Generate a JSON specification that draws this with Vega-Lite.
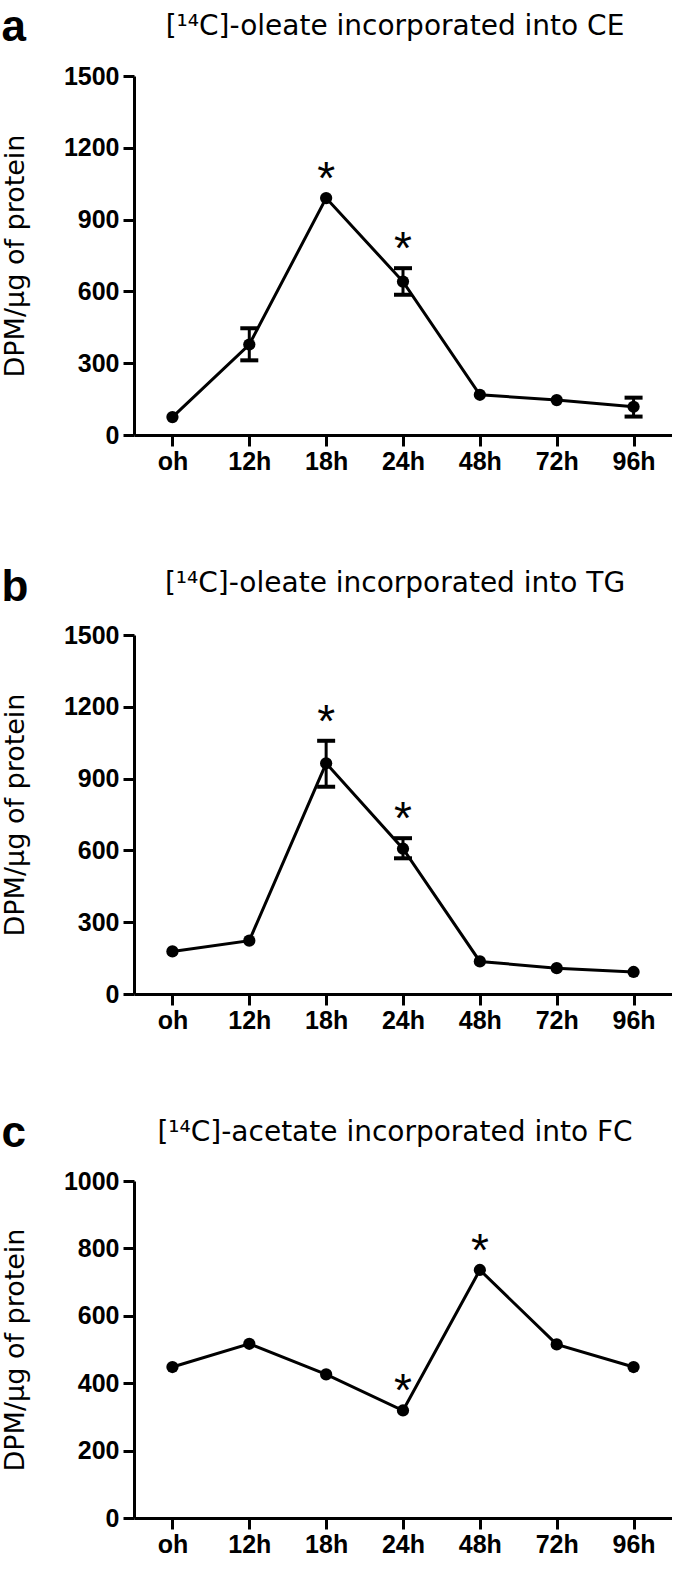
{
  "$schema": "https://vega.github.io/schema/vega-lite/v6.json",
  "padding": {"left": 1, "top": 5, "right": 0, "bottom": 0},
  "background": "white",
  "config": {
    "view": {"stroke": null},
    "axis": {"domainColor": "black", "domainWidth": 3, "tickColor": "black", "tickWidth": 3, "tickSize": 11, "labelFont": "Liberation Sans", "labelFontSize": 25, "labelFontWeight": "bold", "labelColor": "black", "grid": false, "titleFont": "DejaVu Sans", "titleFontSize": 27, "titleFontWeight": "normal", "titleColor": "black"},
    "axisX": {"labelPadding": 3, "labelAngle": 0, "title": null},
    "axisY": {"labelPadding": 4, "titlePadding": 34, "format": "d"},
    "title": {"font": "DejaVu Sans", "fontSize": 28, "fontWeight": "normal", "color": "black"}
  },
  "datasets": {
    "d": [
      {"panel": "a", "time": "oh", "mean": 75, "lo": 75, "hi": 75, "sig": false},
      {"panel": "a", "time": "12h", "mean": 378, "lo": 312, "hi": 446, "sig": false},
      {"panel": "a", "time": "18h", "mean": 990, "lo": 990, "hi": 990, "sig": true},
      {"panel": "a", "time": "24h", "mean": 641, "lo": 586, "hi": 697, "sig": true},
      {"panel": "a", "time": "48h", "mean": 168, "lo": 168, "hi": 168, "sig": false},
      {"panel": "a", "time": "72h", "mean": 146, "lo": 146, "hi": 146, "sig": false},
      {"panel": "a", "time": "96h", "mean": 118, "lo": 77, "hi": 156, "sig": false},
      {"panel": "b", "time": "oh", "mean": 178, "lo": 178, "hi": 178, "sig": false},
      {"panel": "b", "time": "12h", "mean": 223, "lo": 223, "hi": 223, "sig": false},
      {"panel": "b", "time": "18h", "mean": 964, "lo": 866, "hi": 1058, "sig": true},
      {"panel": "b", "time": "24h", "mean": 607, "lo": 567, "hi": 651, "sig": true},
      {"panel": "b", "time": "48h", "mean": 136, "lo": 136, "hi": 136, "sig": false},
      {"panel": "b", "time": "72h", "mean": 108, "lo": 108, "hi": 108, "sig": false},
      {"panel": "b", "time": "96h", "mean": 92, "lo": 92, "hi": 92, "sig": false},
      {"panel": "c", "time": "oh", "mean": 448, "lo": 448, "hi": 448, "sig": false},
      {"panel": "c", "time": "12h", "mean": 517, "lo": 517, "hi": 517, "sig": false},
      {"panel": "c", "time": "18h", "mean": 426, "lo": 426, "hi": 426, "sig": false},
      {"panel": "c", "time": "24h", "mean": 319, "lo": 319, "hi": 319, "sig": true},
      {"panel": "c", "time": "48h", "mean": 736, "lo": 736, "hi": 736, "sig": true},
      {"panel": "c", "time": "72h", "mean": 515, "lo": 515, "hi": 515, "sig": false},
      {"panel": "c", "time": "96h", "mean": 448, "lo": 448, "hi": 448, "sig": false}
    ]
  },
  "spacing": 92,
  "vconcat": [
    {
      "title": {"text": "a", "anchor": "start", "frame": "bounds", "font": "Liberation Sans", "fontSize": 44, "fontWeight": "bold", "offset": -36.5},
      "vconcat": [
        {
          "width": 538, "height": 359,
          "title": {"text": "[¹⁴C]-oleate incorporated into CE", "anchor": "middle", "frame": "group", "dx": -8, "offset": 23},
          "data": {"name": "d"},
          "transform": [{"filter": "datum.panel == 'a'"}],
          "encoding": {
            "x": {"field": "time", "type": "ordinal", "sort": ["oh", "12h", "18h", "24h", "48h", "72h", "96h"], "scale": {"type": "point", "padding": 0.5}, "axis": {"title": null}},
            "y": {"field": "mean", "type": "quantitative", "scale": {"domain": [0, 1500]}, "axis": {"values": [0, 300, 600, 900, 1200, 1500], "title": "DPM/μg of protein"}}
          },
          "layer": [
            {"mark": {"type": "line", "color": "black", "strokeWidth": 3}},
            {"transform": [{"filter": "datum.hi > datum.lo"}], "mark": {"type": "rule", "color": "black", "strokeWidth": 3}, "encoding": {"y": {"field": "lo", "type": "quantitative"}, "y2": {"field": "hi"}}},
            {"transform": [{"filter": "datum.hi > datum.lo"}], "mark": {"type": "tick", "color": "black", "thickness": 4, "size": 18, "orient": "horizontal", "opacity": 1}, "encoding": {"y": {"field": "hi", "type": "quantitative"}}},
            {"transform": [{"filter": "datum.hi > datum.lo"}], "mark": {"type": "tick", "color": "black", "thickness": 4, "size": 18, "orient": "horizontal", "opacity": 1}, "encoding": {"y": {"field": "lo", "type": "quantitative"}}},
            {"mark": {"type": "point", "filled": true, "color": "black", "size": 150, "opacity": 1}},
            {"transform": [{"filter": "datum.sig"}], "mark": {"type": "text", "text": "*", "font": "Liberation Sans", "fontSize": 46, "baseline": "alphabetic", "dy": -4, "color": "black"}, "encoding": {"y": {"field": "hi", "type": "quantitative"}}}
          ]
        }
      ]
    },
    {
      "spacing": 79,
      "vconcat": [
        {
          "title": {"text": "b", "anchor": "start", "frame": "bounds", "font": "Liberation Sans", "fontSize": 44, "fontWeight": "bold", "offset": -40},
          "vconcat": [
            {
              "width": 538, "height": 359,
              "title": {"text": "[¹⁴C]-oleate incorporated into TG", "anchor": "middle", "frame": "group", "dx": -8, "offset": 25},
              "data": {"name": "d"},
              "transform": [{"filter": "datum.panel == 'b'"}],
              "encoding": {
                "x": {"field": "time", "type": "ordinal", "sort": ["oh", "12h", "18h", "24h", "48h", "72h", "96h"], "scale": {"type": "point", "padding": 0.5}, "axis": {"title": null}},
                "y": {"field": "mean", "type": "quantitative", "scale": {"domain": [0, 1500]}, "axis": {"values": [0, 300, 600, 900, 1200, 1500], "title": "DPM/μg of protein"}}
              },
              "layer": [
                {"mark": {"type": "line", "color": "black", "strokeWidth": 3}},
                {"transform": [{"filter": "datum.hi > datum.lo"}], "mark": {"type": "rule", "color": "black", "strokeWidth": 3}, "encoding": {"y": {"field": "lo", "type": "quantitative"}, "y2": {"field": "hi"}}},
                {"transform": [{"filter": "datum.hi > datum.lo"}], "mark": {"type": "tick", "color": "black", "thickness": 4, "size": 18, "orient": "horizontal", "opacity": 1}, "encoding": {"y": {"field": "hi", "type": "quantitative"}}},
                {"transform": [{"filter": "datum.hi > datum.lo"}], "mark": {"type": "tick", "color": "black", "thickness": 4, "size": 18, "orient": "horizontal", "opacity": 1}, "encoding": {"y": {"field": "lo", "type": "quantitative"}}},
                {"mark": {"type": "point", "filled": true, "color": "black", "size": 150, "opacity": 1}},
                {"transform": [{"filter": "datum.sig"}], "mark": {"type": "text", "text": "*", "font": "Liberation Sans", "fontSize": 46, "baseline": "alphabetic", "dy": -4, "color": "black"}, "encoding": {"y": {"field": "hi", "type": "quantitative"}}}
              ]
            }
          ]
        },
        {
          "title": {"text": "c", "anchor": "start", "frame": "bounds", "font": "Liberation Sans", "fontSize": 44, "fontWeight": "bold", "offset": -37},
          "vconcat": [
            {
              "width": 538, "height": 337,
              "title": {"text": "[¹⁴C]-acetate incorporated into FC", "anchor": "middle", "frame": "group", "dx": -8, "offset": 22},
              "data": {"name": "d"},
              "transform": [{"filter": "datum.panel == 'c'"}],
              "encoding": {
                "x": {"field": "time", "type": "ordinal", "sort": ["oh", "12h", "18h", "24h", "48h", "72h", "96h"], "scale": {"type": "point", "padding": 0.5}, "axis": {"title": null}},
                "y": {"field": "mean", "type": "quantitative", "scale": {"domain": [0, 1000]}, "axis": {"values": [0, 200, 400, 600, 800, 1000], "title": "DPM/μg of protein"}}
              },
              "layer": [
                {"mark": {"type": "line", "color": "black", "strokeWidth": 3}},
                {"mark": {"type": "point", "filled": true, "color": "black", "size": 150, "opacity": 1}},
                {"transform": [{"filter": "datum.sig"}], "mark": {"type": "text", "text": "*", "font": "Liberation Sans", "fontSize": 46, "baseline": "alphabetic", "dy": -4, "color": "black"}, "encoding": {"y": {"field": "hi", "type": "quantitative"}}}
              ]
            }
          ]
        }
      ]
    }
  ]
}
